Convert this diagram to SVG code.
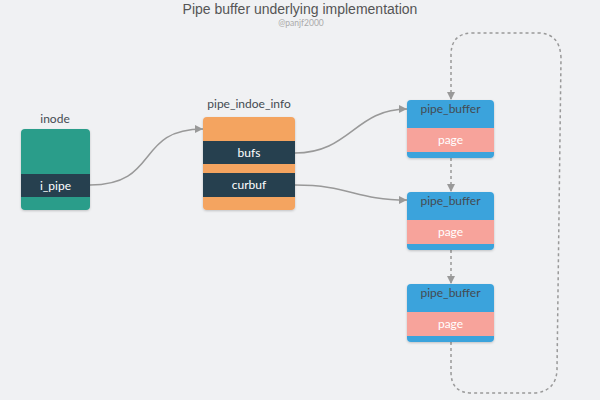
<svg xmlns="http://www.w3.org/2000/svg" width="600" height="400" viewBox="0 0 600 400">
<defs>
<style>
.lbl{font-family:Lato,"Noto Sans",sans-serif;font-size:12px;text-anchor:middle}
.w{fill:#ffffff}
.d{fill:#444b52}
.c{fill:none;stroke:#999999;stroke-width:1.5}
.dash{fill:none;stroke:#999999;stroke-width:1.5;stroke-dasharray:3 3}
</style>
<marker id="ah" viewBox="0 0 10 10" refX="10" refY="5" markerWidth="8" markerHeight="8" markerUnits="userSpaceOnUse" orient="auto">
<path d="M0,0 L10,5 L0,10 z" fill="#999999"/>
</marker>
<filter id="sh" x="-10%" y="-10%" width="120%" height="130%">
<feDropShadow dx="0" dy="1" stdDeviation="1" flood-color="#000" flood-opacity="0.2"/>
</filter>
<clipPath id="c1"><rect x="21" y="129" width="69" height="81" rx="4"/></clipPath>
<clipPath id="c2"><rect x="203" y="117" width="92" height="93" rx="4"/></clipPath>
<clipPath id="c3"><rect x="407" y="100" width="87" height="58" rx="4"/></clipPath>
<clipPath id="c4"><rect x="407" y="192" width="87" height="58" rx="4"/></clipPath>
<clipPath id="c5"><rect x="407" y="284" width="87" height="58" rx="4"/></clipPath>
</defs>
<rect width="600" height="400" fill="#f0f1f3"/>
<text x="300" y="14" font-family="'Liberation Sans',Arial,sans-serif" font-size="14" fill="#555555" text-anchor="middle">Pipe buffer underlying implementation</text>
<text x="301" y="25.5" font-family="Lato,'Noto Sans',sans-serif" font-size="8.5" fill="#aaaaaa" text-anchor="middle">@panjf2000</text>

<g id="connectors">
<path class="c" d="M90,185 C160,185 135,129 203,129" marker-end="url(#ah)"/>
<path class="c" d="M295,153 C350,153 355,109 407,109" marker-end="url(#ah)"/>
<path class="c" d="M295,185 C350,185 355,200 407,200" marker-end="url(#ah)"/>
<path class="dash" d="M451,158 L451,192" marker-end="url(#ah)"/>
<path class="dash" d="M451,250 L451,284" marker-end="url(#ah)"/>
<path class="dash" d="M451,342 L451,372 Q451,393 472,393 L535,393 Q556,391 557,370 L561,58 Q560,33 538,33 L473,33 Q451,33 451,55 L451,100" marker-end="url(#ah)"/>
</g>

<g id="inode">
<text class="lbl d" x="55" y="123">inode</text>
<g filter="url(#sh)"><g clip-path="url(#c1)">
<rect x="21" y="129" width="69" height="81" fill="#2a9d8a"/>
<rect x="21" y="174" width="69" height="23" fill="#25414f"/>
</g></g>
<text class="lbl w" x="55.5" y="190">i_pipe</text>
</g>

<g id="pipe_inode_info">
<text class="lbl d" x="249" y="108">pipe_indoe_info</text>
<g filter="url(#sh)"><g clip-path="url(#c2)">
<rect x="203" y="117" width="92" height="93" fill="#f4a460"/>
<rect x="203" y="141" width="92" height="23" fill="#25414f"/>
<rect x="203" y="173" width="92" height="24" fill="#25414f"/>
</g></g>
<text class="lbl w" x="249" y="157">bufs</text>
<text class="lbl w" x="249" y="189">curbuf</text>
</g>

<g id="pipe_buffer1">
<g filter="url(#sh)"><g clip-path="url(#c3)">
<rect x="407" y="100" width="87" height="58" fill="#3ba3dc"/>
<rect x="407" y="128" width="87" height="24" fill="#f7a39b"/>
</g></g>
<text class="lbl d" x="450.5" y="113">pipe_buffer</text>
<text class="lbl w" x="450.5" y="144">page</text>
</g>

<g id="pipe_buffer2">
<g filter="url(#sh)"><g clip-path="url(#c4)">
<rect x="407" y="192" width="87" height="58" fill="#3ba3dc"/>
<rect x="407" y="220" width="87" height="24" fill="#f7a39b"/>
</g></g>
<text class="lbl d" x="450.5" y="205">pipe_buffer</text>
<text class="lbl w" x="450.5" y="236">page</text>
</g>

<g id="pipe_buffer3">
<g filter="url(#sh)"><g clip-path="url(#c5)">
<rect x="407" y="284" width="87" height="58" fill="#3ba3dc"/>
<rect x="407" y="312" width="87" height="24" fill="#f7a39b"/>
</g></g>
<text class="lbl d" x="450.5" y="297">pipe_buffer</text>
<text class="lbl w" x="450.5" y="328">page</text>
</g>
</svg>
